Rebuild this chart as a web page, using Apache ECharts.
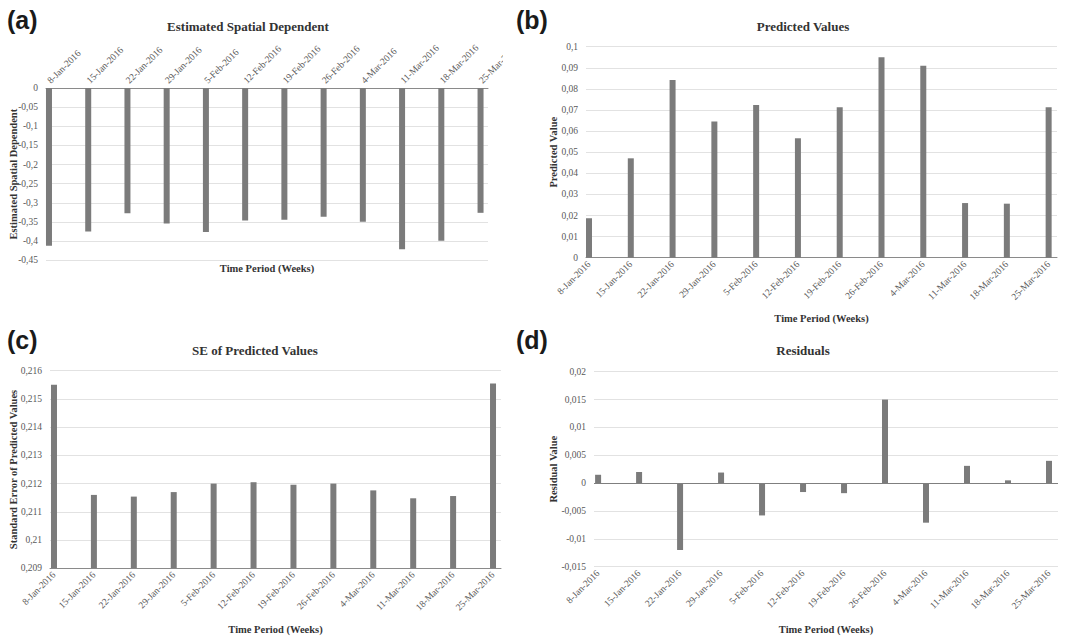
<!DOCTYPE html>
<html>
<head>
<meta charset="utf-8">
<script src="https://cdn.jsdelivr.net/npm/echarts@6/dist/echarts.min.js"></script>
<style>
html,body{margin:0;padding:0;background:#fff;}
body{width:1082px;height:637px;position:relative;overflow:hidden;}
.p{position:absolute;overflow:hidden;}
</style>
</head>
<body>
<div id="pa" class="p" style="left:0;top:0;width:503px;height:285px"></div>
<div id="pb" class="p" style="left:503px;top:0;width:579px;height:325px"></div>
<div id="pc" class="p" style="left:0;top:320px;width:503px;height:317px"></div>
<div id="pd" class="p" style="left:503px;top:325px;width:579px;height:312px"></div>
<script>
// ---- data ----
const categories = ['8-Jan-2016','15-Jan-2016','22-Jan-2016','29-Jan-2016','5-Feb-2016','12-Feb-2016',
  '19-Feb-2016','26-Feb-2016','4-Mar-2016','11-Mar-2016','18-Mar-2016','25-Mar-2016'];
const spatialDependent = [-0.412,-0.375,-0.327,-0.354,-0.376,-0.346,-0.344,-0.336,-0.349,-0.421,-0.399,-0.326];
const predictedValues = [0.0187,0.0471,0.0842,0.0646,0.0724,0.0566,0.0713,0.0950,0.0910,0.0259,0.0256,0.0713];
const seValues = [0.2155,0.2116,0.21154,0.2117,0.2120,0.21205,0.21196,0.2120,0.21176,0.21148,0.21156,0.21555];
const residuals = [0.0015,0.0020,-0.0120,0.0019,-0.0058,-0.0016,-0.0018,0.0150,-0.0071,0.0031,0.0005,0.0040];
const panelLetters = ['(a)','(b)','(c)','(d)'];
const panelTitles = ['Estimated Spatial Dependent','Predicted Values','SE of Predicted Values','Residuals'];
const yNames = ['Estimated Spatial Dependent','Predicted Value','Standard Error of Predicted Values','Residual Value'];
const xName = 'Time Period (Weeks)';

const SERIF = 'Liberation Serif';
const SANS = 'Liberation Sans';
function fmt(v){ return String(+(+v).toFixed(3)).replace('.', ','); }

function makePanel(id, off, c){
  const chart = echarts.init(document.getElementById(id), null, {renderer:'svg'});
  const L = c.plot[0]-off[0], T = c.plot[1]-off[1];
  const W = c.plot[2]-c.plot[0], H = c.plot[3]-c.plot[1];
  const data = c.values.map((v,i)=>[i,v]);
  const graphic = [
    {type:'text', left:c.letter[0]-off[0], top:c.letter[1]-off[1],
     style:{text:c.letterText, fontFamily:SANS, fontWeight:'bold', fontSize:25, fill:'#1a1a1a'}},
    {type:'text', x:c.title[0]-off[0], y:c.title[1]-off[1],
     style:{text:c.titleText, fontFamily:SERIF, fontWeight:'bold', fontSize:13, fill:'#333', align:'center', verticalAlign:'middle'}}
  ];
  if (c.xNamePos) {
    graphic.push({type:'text', x:c.xNamePos[0]-off[0], y:c.xNamePos[1]-off[1],
      style:{text:xName, fontFamily:SERIF, fontWeight:'bold', fontSize:10.5, fill:'#333', align:'center', verticalAlign:'middle'}});
  }
  const series = {type:'bar', data:data, barWidth:6, itemStyle:{color:'#7b7b7b'}, silent:true};
  if (c.zeroMark) {
    series.markLine = {symbol:'none', silent:true, label:{show:false},
      lineStyle:{color:'#7f7f7f', type:'solid', width:1}, data:[{yAxis:0}]};
  }
  chart.setOption({
    animation:false,
    textStyle:{fontFamily:SERIF},
    grid:{left:L, top:T, width:W, height:H, containLabel:false, outerBoundsMode:'none'},
    xAxis:{type:'value', min:c.xMin, max:c.xMax, position:c.xPos,
      axisLine:{show:!c.zeroMark, onZero:true, lineStyle:{color:'#8a8a8a', width:1}},
      axisTick:{show:false}, splitLine:{show:false},
      axisLabel:{customValues:categories.map((_,i)=>i), formatter:v=>categories[Math.round(v)],
        rotate:45, margin:c.xMargin, fontFamily:SERIF, fontSize:9.5, color:'#595959'},
      name:c.xNamePos ? '' : xName, nameLocation:'middle', nameGap:c.xNameGap, nameMoveOverlap:false,
      nameTextStyle:{fontFamily:SERIF, fontWeight:'bold', fontSize:10.5, color:'#333'}},
    yAxis:{type:'value', min:c.yMin, max:c.yMax, interval:c.yInt,
      axisLine:{show:false}, axisTick:{show:false},
      splitLine:{lineStyle:{color:'#e2e2e2', width:1}},
      axisLabel:{formatter:fmt, fontFamily:SERIF, fontSize:9.5, color:'#595959', margin:8},
      name:c.yName, nameLocation:'middle', nameGap:c.yNameGap, nameMoveOverlap:false,
      nameTextStyle:{fontFamily:SERIF, fontWeight:'bold', fontSize:10.5, color:'#333'}},
    series:[series],
    graphic:graphic
  });
}

makePanel('pa', [0,0], {
  plot:[46,88,488,260.3], values:spatialDependent, xMin:-0.076, xMax:11.19, xPos:'top', xMargin:6,
  yMin:-0.45, yMax:0, yInt:0.05, yName:yNames[0], yNameGap:27,
  letter:[7,7], letterText:panelLetters[0], title:[248,26], titleText:panelTitles[0],
  xNamePos:[267,268]
});
makePanel('pb', [503,0], {
  plot:[586,46.7,1057,257.7], values:predictedValues, xMin:-0.072, xMax:11.2, xPos:'bottom', xMargin:5,
  yMin:0, yMax:0.1, yInt:0.01, yName:yNames[1], yNameGap:27, xNameGap:55,
  letter:[516,7], letterText:panelLetters[1], title:[803,26], titleText:panelTitles[1]
});
makePanel('pc', [0,320], {
  plot:[50,370.7,501,568.3], values:seValues, xMin:-0.1, xMax:11.2, xPos:'bottom', xMargin:5,
  yMin:0.209, yMax:0.216, yInt:0.001, yName:yNames[2], yNameGap:31, xNameGap:56,
  letter:[7,327], letterText:panelLetters[2], title:[255,350], titleText:panelTitles[2]
});
makePanel('pd', [503,325], {
  plot:[594,371.7,1058,566.7], values:residuals, xMin:-0.1, xMax:11.22, xPos:'bottom', xMargin:5,
  yMin:-0.015, yMax:0.02, yInt:0.005, yName:yNames[3], yNameGap:35, xNameGap:57, zeroMark:true,
  letter:[516,327], letterText:panelLetters[3], title:[803,350], titleText:panelTitles[3]
});
</script>
</body>
</html>
